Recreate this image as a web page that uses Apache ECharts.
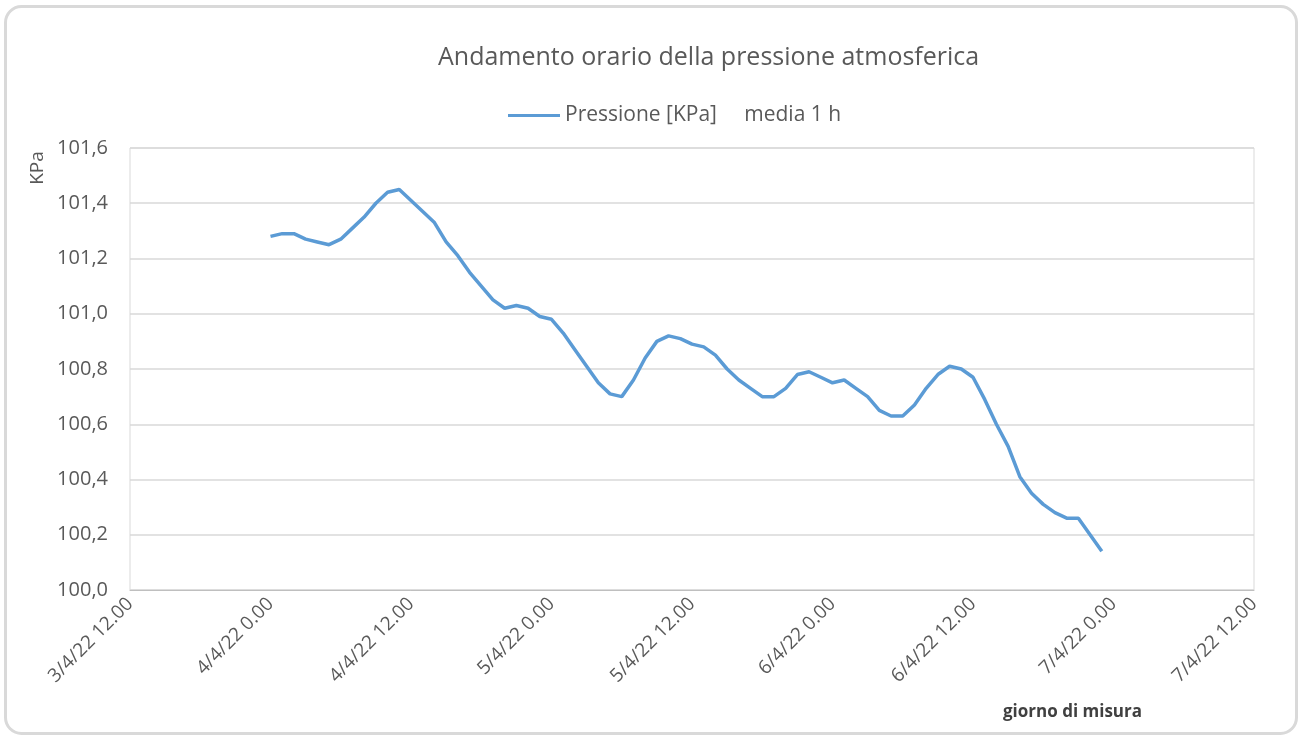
<!DOCTYPE html>
<html>
<head>
<meta charset="utf-8">
<script src="https://cdn.jsdelivr.net/npm/echarts@6/dist/echarts.min.js"></script>
<style>
  html, body { margin: 0; padding: 0; background: #fff; }
  #chart { width: 1301px; height: 738px; }
</style>
</head>
<body>
<div id="chart"></div>
<script>
// etichette asse x (ogni 12 ore, a partire da 3/4/22 12.00)
const xLabels = ['3/4/22 12.00', '4/4/22 0.00', '4/4/22 12.00', '5/4/22 0.00', '5/4/22 12.00',
  '6/4/22 0.00', '6/4/22 12.00', '7/4/22 0.00', '7/4/22 12.00'];
const yLabels = ['100,0', '100,2', '100,4', '100,6', '100,8', '101,0', '101,2', '101,4', '101,6'];

// prima misura: 4/4/22 0.00 = 12 ore dopo l'inizio asse, poi una misura ogni ora
const firstHour = 12;
const pressione = [
  101.28, 101.29, 101.29, 101.27, 101.26, 101.25, 101.27, 101.31, 101.35, 101.40, 101.44, 101.45,
  101.41, 101.37, 101.33, 101.26, 101.21, 101.15, 101.10, 101.05, 101.02, 101.03, 101.02, 100.99,
  100.98, 100.93, 100.87, 100.81, 100.75, 100.71, 100.70, 100.76, 100.84, 100.90, 100.92, 100.91,
  100.89, 100.88, 100.85, 100.80, 100.76, 100.73, 100.70, 100.70, 100.73, 100.78, 100.79, 100.77,
  100.75, 100.76, 100.73, 100.70, 100.65, 100.63, 100.63, 100.67, 100.73, 100.78, 100.81, 100.80,
  100.77, 100.69, 100.60, 100.52, 100.41, 100.35, 100.31, 100.28, 100.26, 100.26, 100.20, 100.14
];

const seriesData = pressione.map((v, i) => [firstHour + i, v]);

const font = '"Open Sans", Lato, sans-serif';
const chart = echarts.init(document.getElementById('chart'));

const option = {
  animation: false,
  title: {
    text: 'Andamento orario della pressione atmosferica',
    left: 433,
    top: 40,
    textStyle: { fontFamily: font, fontSize: 25, fontWeight: 'normal', color: '#595959' }
  },
  legend: {
    top: 100,
    left: 503,
    itemWidth: 52,
    itemHeight: 3,
    itemGap: 8,
    icon: 'rect',
    textStyle: { fontFamily: font, fontSize: 21, color: '#595959' },
    data: ['Pressione [KPa]     media 1 h']
  },
  grid: {
    left: 130, right: 47, top: 148, bottom: 148,
    show: true, borderColor: '#d9d9d9', borderWidth: 1
  },
  xAxis: {
    type: 'value',
    min: 0, max: 96, interval: 12,
    axisLine: { show: true, lineStyle: { color: '#bfbfbf' } },
    axisTick: { show: false },
    splitLine: { show: false },
    axisLabel: {
      rotate: 45,
      margin: 11,
      fontFamily: font, fontSize: 19, color: '#595959',
      formatter: v => xLabels[v / 12]
    }
  },
  yAxis: {
    type: 'value',
    min: 100, max: 101.6, interval: 0.2,
    axisLine: { show: false },
    axisTick: { show: false },
    splitLine: { lineStyle: { color: '#d9d9d9', width: 1.5 } },
    axisLabel: {
      margin: 22,
      fontFamily: font, fontSize: 20, color: '#595959',
      formatter: v => yLabels[Math.round((v - 100) / 0.2)]
    }
  },
  series: [{
    name: 'Pressione [KPa]     media 1 h',
    type: 'line',
    data: seriesData,
    showSymbol: false,
    lineStyle: { color: '#5b9bd5', width: 3.5 },
    itemStyle: { color: '#5b9bd5' }
  }],
  graphic: [
    {
      type: 'rect',
      shape: { x: 5.5, y: 6.5, width: 1291, height: 727, r: 16 },
      style: { fill: 'none', stroke: '#d9d9d9', lineWidth: 3 },
      silent: true
    },
    {
      type: 'text',
      x: 38, y: 168,
      rotation: Math.PI / 2,
      style: {
        text: 'KPa', fontFamily: font, fontSize: 19, fill: '#595959',
        textAlign: 'center', textVerticalAlign: 'middle'
      }
    },
    {
      type: 'text',
      left: 1003, top: 704,
      style: { text: 'giorno di misura', fontFamily: font, fontSize: 17, fontWeight: 'bold', fill: '#404040' }
    }
  ]
};

chart.setOption(option);
</script>
</body>
</html>
